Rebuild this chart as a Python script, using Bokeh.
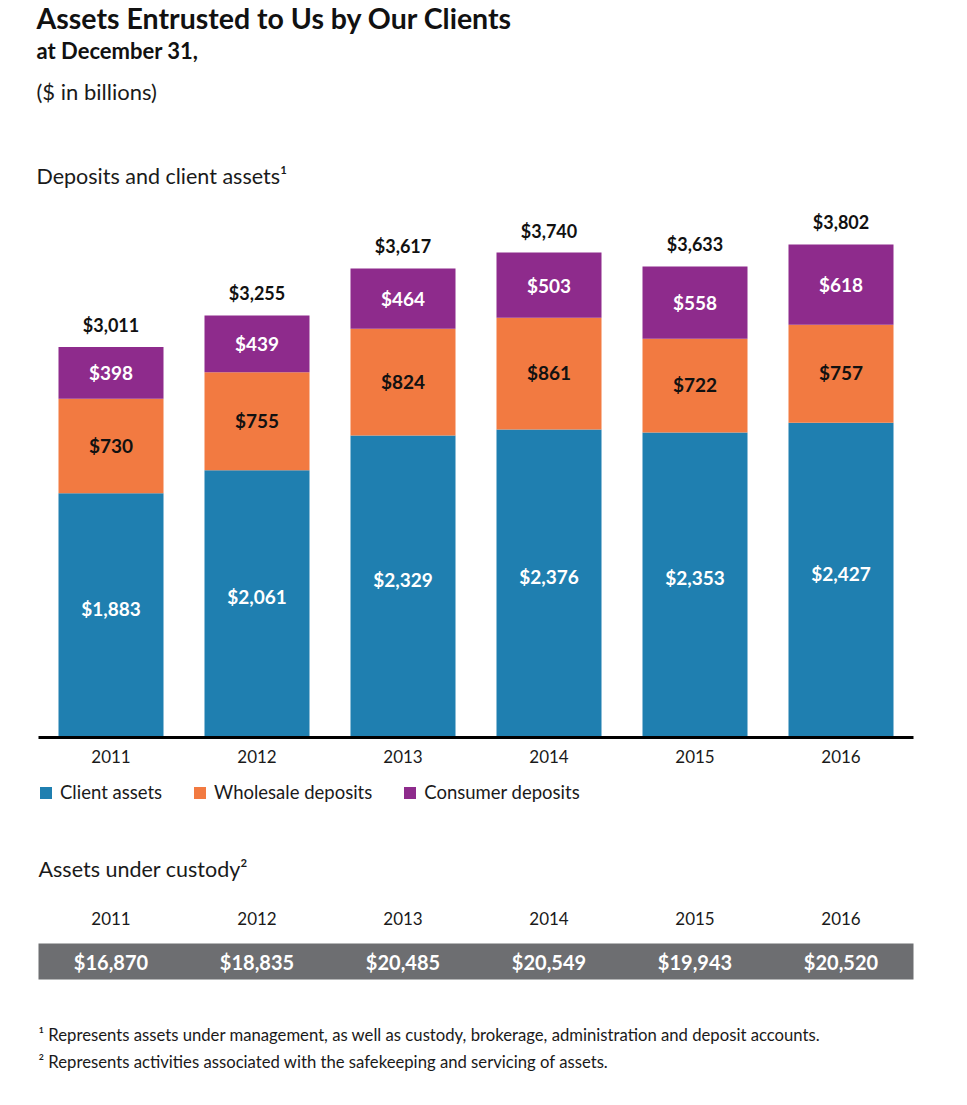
from bokeh.plotting import figure
from bokeh.models import ColumnDataSource, Range1d, Legend, LegendItem
from bokeh.core.properties import value
from bokeh.embed import file_html
from bokeh.resources import INLINE

# ---------------- data ----------------
years = ["2011", "2012", "2013", "2014", "2015", "2016"]
client_assets = [1883, 2061, 2329, 2376, 2353, 2427]
wholesale_deposits = [730, 755, 824, 861, 722, 757]
consumer_deposits = [398, 439, 464, 503, 558, 618]
totals = [3011, 3255, 3617, 3740, 3633, 3802]
custody = [16870, 18835, 20485, 20549, 19943, 20520]
series_names = ["Client assets", "Wholesale deposits", "Consumer deposits"]
colors = ["#1f7fb0", "#f27a41", "#8e2b8c"]

title = "Assets Entrusted to Us by Our Clients"
subtitle = "at December 31,"
units = "($ in billions)"
chart_label = "Deposits and client assets\u00b9"
custody_label = "Assets under custody\u00b2"
footnote1 = "\u00b9 Represents assets under management, as well as custody, brokerage, administration and deposit accounts."
footnote2 = "\u00b2 Represents activities associated with the safekeeping and servicing of assets."

FONT = "Lato"
W, H = 951, 1089

# ---------------- layout helpers (picture pixel -> data) ----------------
X0, DX = 110.5, 146.0      # centre of first bar, bar pitch (px)
BASE_Y = 737.0             # baseline (px)
PX_PER = 0.12967           # px per $bn


def xd(px):
    return (px - X0) / DX


def yd(py):
    return (BASE_Y - py) / PX_PER


p = figure(width=W, height=H,
           x_range=Range1d(xd(0), xd(W)),
           y_range=Range1d(yd(H), yd(0)),
           output_backend="svg", toolbar_location=None,
           x_axis_location=None, y_axis_location=None,
           min_border=0, outline_line_color=None)
p.grid.grid_line_color = None
p.background_fill_color = "white"
p.border_fill_color = "white"

idx = list(range(len(years)))
src = ColumnDataSource(dict(x=idx, client=client_assets,
                            wholesale=wholesale_deposits,
                            consumer=consumer_deposits))

rs = p.vbar_stack(["client", "wholesale", "consumer"], x="x", width=105 / DX,
                  fill_color=colors, line_color=None, source=src)

# baseline
p.segment(x0=[xd(38)], x1=[xd(913)], y0=[0], y1=[0], line_color="black", line_width=3)


def txt(x, y, s, size, bold=False, color="#1a1a1a", align="left",
        baseline="middle", y_offset=0):
    p.text(x=x, y=y, text=s, text_font=value(FONT), text_font_size=f"{size}px",
           text_font_style="bold" if bold else "normal", text_color=color,
           text_align=align, text_baseline=baseline, y_offset=y_offset)


def money(v):
    return f"${v:,}"


# titles
txt([xd(36)], [yd(17)], [title], 28.5, bold=True, color="#111111")
txt([xd(36)], [yd(50)], [subtitle], 22, bold=True, color="#111111")
txt([xd(36)], [yd(91)], [units], 22)
txt([xd(36)], [yd(175)], [chart_label], 21.5)

# segment labels
c_mid = [c / 2 for c in client_assets]
w_mid = [c + w / 2 for c, w in zip(client_assets, wholesale_deposits)]
k_mid = [c + w + k / 2 for c, w, k in zip(client_assets, wholesale_deposits, consumer_deposits)]
txt(idx, c_mid, [money(v) for v in client_assets], 19, bold=True, color="white",
    align="center", y_offset=-7)
txt(idx, w_mid, [money(v) for v in wholesale_deposits], 19, bold=True, color="#111111",
    align="center", y_offset=-1)
txt(idx, k_mid, [money(v) for v in consumer_deposits], 19, bold=True, color="white",
    align="center")
# totals
txt(idx, totals, [money(v) for v in totals], 18, bold=True, color="#111111",
    align="center", y_offset=-22)

# year axis labels
txt(idx, [yd(756)] * len(years), years, 17, align="center")

# legend
legend = Legend(items=[LegendItem(label=n, renderers=[r]) for n, r in zip(series_names, rs)],
                orientation="horizontal", location=(38, H - 803),
                background_fill_alpha=0, border_line_color=None, padding=0, margin=0,
                spacing=30, label_standoff=7, glyph_width=15, glyph_height=15,
                label_height=15, label_text_font=FONT, label_text_font_size="18.5px",
                label_text_color="#1a1a1a")
p.add_layout(legend)

# assets under custody
txt([xd(38)], [yd(868)], [custody_label], 21.5)
txt(idx, [yd(918)] * len(years), years, 17, align="center")
p.quad(left=[xd(38)], right=[xd(913)], top=[yd(943)], bottom=[yd(979)],
       fill_color="#6d6e71", line_color=None)
txt(idx, [yd(961)] * len(years), [money(v) for v in custody], 20, bold=True,
    color="white", align="center")

# footnotes
txt([xd(38)], [yd(1034.5)], [footnote1], 16.7)
txt([xd(38)], [yd(1061)], [footnote2], 16.7)

open("out.html", "w").write(file_html(p, INLINE))
